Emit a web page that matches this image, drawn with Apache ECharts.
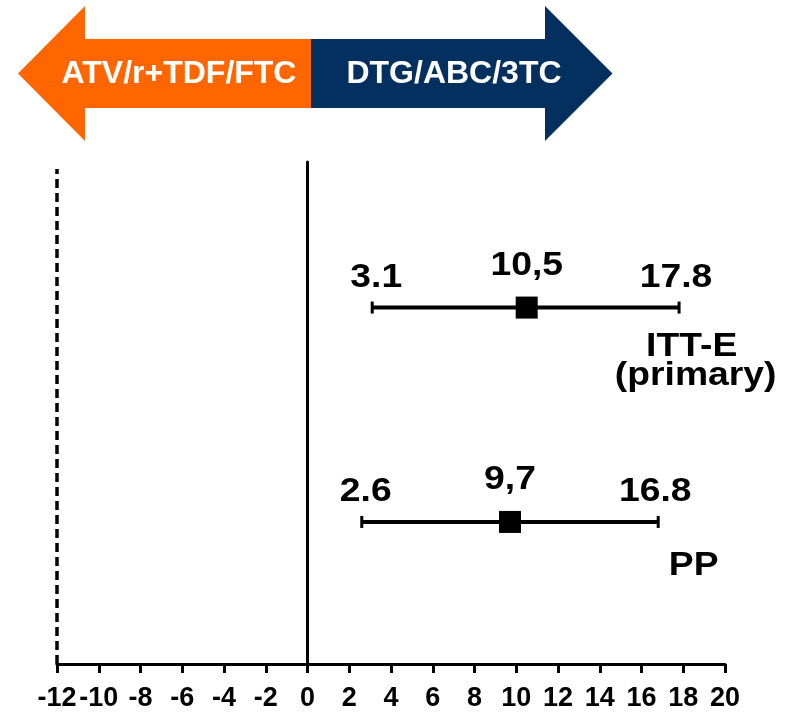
<!DOCTYPE html>
<html>
<head>
<meta charset="utf-8">
<script src="https://cdn.jsdelivr.net/npm/echarts@6/dist/echarts.min.js"></script>
<style>
  html, body { margin: 0; padding: 0; background: #fff; }
  #chart { width: 788px; height: 712px; }
</style>
</head>
<body>
<div id="chart"></div>
<script>
// Treatment difference (%) with 95% CI, one row per analysis population
const populations = ['ITT-E', 'PP'];
const populationNotes = ['(primary)', ''];
const estimates = [10.5, 9.7];
const lowerCI = [3.1, 2.6];
const upperCI = [17.8, 16.8];
const rowLevels = [7.1, 2.83];           // vertical placement of each row on the hidden y scale
const marginValue = -12;                 // non-inferiority margin
const xTicks = { min: -12, max: 20, interval: 2 };
const leftArm = 'ATV/r+TDF/FTC';
const rightArm = 'DTG/ABC/3TC';

const FONT = '"Liberation Sans", Arial, sans-serif';
const NAME_COLUMN = 18.5;                // x position (axis units) of the population names
const WIDE = 1.13;                       // horizontal stretch of the in-plot labels
const LABEL_SIZE = 33;

const chart = echarts.init(document.getElementById('chart'), null, { renderer: 'canvas' });

const ciData = populations.map((p, i) => [lowerCI[i], upperCI[i], rowLevels[i], estimates[i], i]);

function txt(x, y, text) {
  return {
    type: 'text',
    x: x, y: y,
    scaleX: WIDE, scaleY: 1,
    style: {
      x: 0, y: 0, text: text,
      fill: '#000', font: 'bold ' + LABEL_SIZE + 'px ' + FONT,
      textAlign: 'center', textVerticalAlign: 'middle'
    }
  };
}

const option = {
  animation: false,
  backgroundColor: '#fff',
  grid: { left: 57, right: 63, top: 162, bottom: 48 },
  xAxis: {
    type: 'value',
    min: xTicks.min, max: xTicks.max, interval: xTicks.interval,
    axisLine: { show: true, onZero: false, lineStyle: { color: '#000', width: 3 } },
    axisTick: { show: true, length: 9, lineStyle: { color: '#000', width: 3 } },
    axisLabel: { color: '#000', fontFamily: FONT, fontWeight: 'bold', fontSize: 27, margin: 21 },
    splitLine: { show: false }
  },
  yAxis: {
    type: 'value', min: 0, max: 10,
    axisLine: { show: true, onZero: true, lineStyle: { color: '#000', width: 3 } },
    axisTick: { show: false },
    axisLabel: { show: false },
    splitLine: { show: false }
  },
  graphic: [
    {
      type: 'polygon',
      shape: { points: [[18, 73.5], [85, 6], [85, 39], [311, 39], [311, 108], [85, 108], [85, 141]] },
      style: { fill: '#FF6600' }
    },
    {
      type: 'polygon',
      shape: { points: [[311, 39], [545, 39], [545, 6], [612.5, 73.5], [545, 141], [545, 108], [311, 108]] },
      style: { fill: '#03305F' }
    },
    {
      type: 'text', x: 179, y: 74,
      style: { text: leftArm, fill: '#fff', font: 'bold 32px ' + FONT, textAlign: 'center', textVerticalAlign: 'middle' }
    },
    {
      type: 'text', x: 454, y: 74,
      style: { text: rightArm, fill: '#fff', font: 'bold 32px ' + FONT, textAlign: 'center', textVerticalAlign: 'middle' }
    }
  ],
  series: [
    {
      // non-inferiority margin
      type: 'line',
      data: [[marginValue, 0], [marginValue, 9.86]],
      symbol: 'none',
      lineStyle: { color: '#000', width: 3.5, type: [9, 5] },
      silent: true
    },
    {
      type: 'custom',
      data: ciData,
      encode: { x: [0, 1, 3], y: 2 },
      renderItem: function (params, api) {
        const lo = api.value(0), hi = api.value(1), yv = api.value(2), est = api.value(3);
        const i = api.value(4);
        const p0 = api.coord([lo, yv]);
        const p1 = api.coord([hi, yv]);
        const pe = api.coord([est, yv]);
        const nx = api.coord([NAME_COLUMN, yv])[0];
        const lineStyle = { stroke: '#000', lineWidth: 4 };
        const capStyle = { stroke: '#000', lineWidth: 3 };
        const children = [
          { type: 'line', shape: { x1: p0[0], y1: p0[1], x2: p1[0], y2: p1[1] }, style: lineStyle },
          { type: 'line', shape: { x1: p0[0], y1: p0[1] - 6, x2: p0[0], y2: p0[1] + 6 }, style: capStyle },
          { type: 'line', shape: { x1: p1[0], y1: p1[1] - 6, x2: p1[0], y2: p1[1] + 6 }, style: capStyle },
          { type: 'rect', shape: { x: pe[0] - 11, y: pe[1] - 11, width: 22, height: 22 }, style: { fill: '#000' } },
          txt(p0[0] + 4, p0[1] - 30, lo.toFixed(1)),
          txt(p1[0] - 3, p1[1] - 30, hi.toFixed(1)),
          txt(pe[0], pe[1] - 42, est.toFixed(1).replace('.', ','))
        ];
        if (populationNotes[i]) {
          children.push(txt(nx - 2, pe[1] + 39, populations[i]));
          children.push(txt(nx + 2, pe[1] + 68, populationNotes[i]));
        } else {
          children.push(txt(nx, pe[1] + 44, populations[i]));
        }
        return { type: 'group', children: children };
      }
    }
  ]
};

chart.setOption(option);
</script>
</body>
</html>
